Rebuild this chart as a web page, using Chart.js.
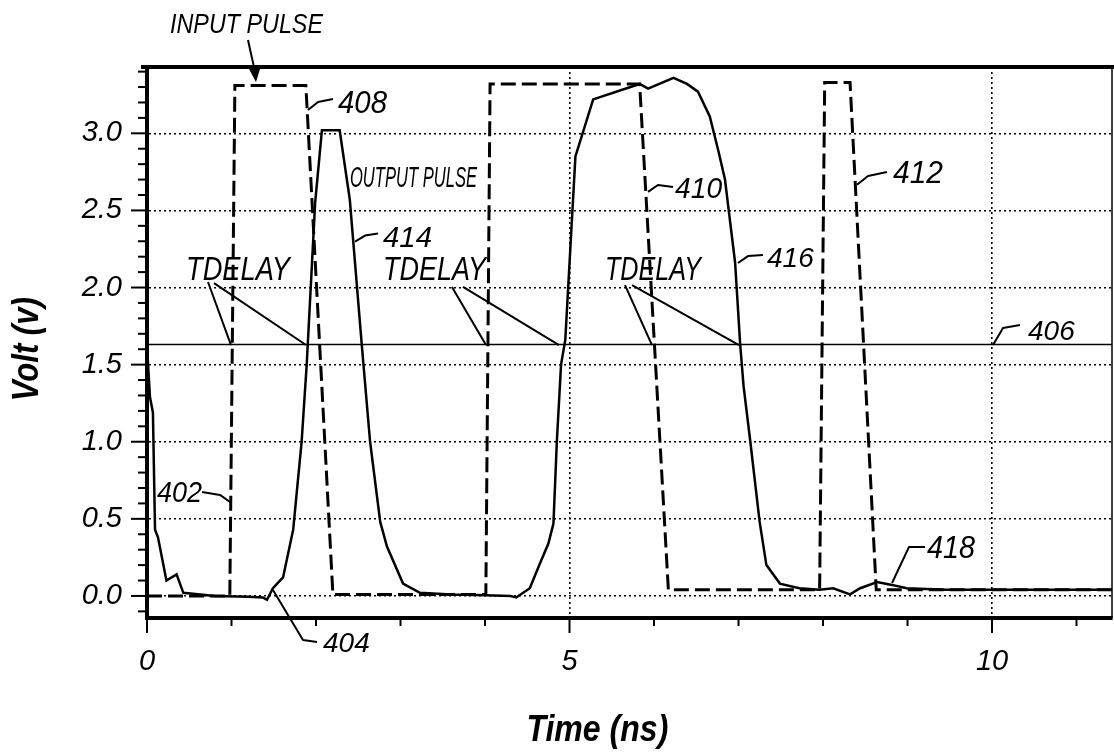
<!DOCTYPE html>
<html>
<head>
<meta charset="utf-8">
<script src="https://cdn.jsdelivr.net/npm/chart.js@4.4.1/dist/chart.umd.min.js"></script>
<style>
  html, body { margin: 0; padding: 0; background: #fff; overflow: hidden; }
  #wrap { width: 1114px; height: 752px; }
</style>
</head>
<body>
<div id="wrap"><canvas id="c" width="1114" height="752"></canvas></div>
<script>
// ---------- data ----------
const inputTime  = [0, 0.98, 1.04, 1.88, 2.20, 4.01, 4.06, 5.83, 6.17, 7.96, 8.02, 8.32, 8.63, 11.42];
const inputVolt  = [0.00, 0.00, 3.31, 3.31, 0.01, 0.01, 3.32, 3.32, 0.04, 0.04, 3.33, 3.33, 0.04, 0.04];

const outputTime = [0, 0.035, 0.07, 0.095, 0.13, 0.23, 0.35, 0.43, 0.8, 1.2, 1.37, 1.42, 1.49, 1.61, 1.73, 1.83, 1.89, 1.99, 2.07, 2.28, 2.40, 2.54, 2.64, 2.76, 2.84, 3.03, 3.23, 3.6, 4.0, 4.3, 4.37, 4.53, 4.65, 4.75, 4.81, 4.85, 4.90, 4.95, 5.07, 5.28, 5.83, 5.93, 6.23, 6.39, 6.52, 6.66, 6.76, 6.84, 6.88, 6.96, 7.02, 7.06, 7.14, 7.25, 7.33, 7.49, 7.72, 7.96, 8.12, 8.32, 8.44, 8.64, 8.83, 8.99, 9.46, 10.0, 11.42];
const outputVolt = [1.62, 1.29, 1.19, 0.43, 0.38, 0.10, 0.14, 0.02, 0.00, -0.005, -0.01, -0.025, 0.05, 0.12, 0.43, 1.00, 1.50, 2.55, 3.02, 3.02, 2.57, 1.64, 1.00, 0.48, 0.32, 0.08, 0.02, 0.01, 0.005, 0.00, -0.01, 0.05, 0.21, 0.34, 0.47, 1.00, 1.50, 1.66, 2.85, 3.22, 3.32, 3.29, 3.36, 3.32, 3.27, 3.11, 2.89, 2.70, 2.52, 2.16, 1.63, 1.36, 1.00, 0.48, 0.20, 0.08, 0.05, 0.04, 0.05, 0.01, 0.05, 0.09, 0.07, 0.05, 0.04, 0.04, 0.04];

const thresholdVolt = 1.63;          // line 406
const xMin = 0, xMax = 11.42;
const yMin = -0.143, yMax = 3.43;
const xLabelValues = [0, 5, 10];
const yLabelStep = 0.5;

// callouts: [text, time, volt (left/baseline), font px, max width px]
const calloutTexts = [
  ['INPUT PULSE', 0.272, 3.650, 28, 153],
  ['408', 2.260, 3.132, 31, 49],
  ['OUTPUT PULSE', 2.402, 2.652, 30, 127],
  ['414', 2.793, 2.263, 30, 49],
  ['TDELAY', 0.462, 2.049, 33, 104],
  ['TDELAY', 2.793, 2.049, 33, 103],
  ['TDELAY', 5.420, 2.049, 33, 96],
  ['410', 6.249, 2.581, 30, 47],
  ['416', 7.337, 2.133, 28, 48],
  ['412', 8.828, 2.678, 31, 50],
  ['406', 10.426, 1.660, 28, 49],
  ['402', 0.118, 0.609, 30, 45],
  ['404', 2.083, -0.363, 28, 47],
  ['418', 9.231, 0.246, 31, 48]
];
// leader lines as lists of [time, volt]
const calloutLeaders = [
  [[1.195, 3.605], [1.278, 3.40]],
  [[1.905, 3.151], [2.024, 3.203], [2.201, 3.223]],
  [[2.462, 2.297], [2.580, 2.337], [2.734, 2.350]],
  [[0.722, 2.036], [0.994, 1.627]],
  [[0.793, 2.029], [1.882, 1.627]],
  [[3.609, 2.004], [4.012, 1.627]],
  [[3.740, 2.004], [4.876, 1.627]],
  [[5.657, 2.016], [5.976, 1.627]],
  [[5.740, 2.016], [7.006, 1.627]],
  [[5.929, 2.620], [6.047, 2.665], [6.225, 2.652]],
  [[6.994, 2.159], [7.112, 2.204], [7.290, 2.211]],
  [[8.402, 2.666], [8.533, 2.723], [8.757, 2.749]],
  [[10.012, 1.627], [10.130, 1.738], [10.331, 1.757]],
  [[0.651, 0.674], [0.864, 0.655], [0.982, 0.609]],
  [[1.491, 0.039], [1.846, -0.285], [2.012, -0.298]],
  [[8.817, 0.084], [9.018, 0.318], [9.207, 0.318]]
];
const arrowTip = [1.29, 3.333];
const xTitle = 'Time (ns)';
const yTitle = 'Volt (v)';

// ---------- helpers ----------
const FONT = '"Liberation Sans", Arial, sans-serif';
const toXY = (xs, ys) => xs.map((x, i) => ({ x: x, y: ys[i] }));
const isMult = (v, s) => Math.abs(v / s - Math.round(v / s)) < 1e-6;

const framePlugin = {
  id: 'frame',
  afterDraw(chart) {
    const ctx = chart.ctx;
    const a = chart.chartArea;
    const xs = chart.scales.x, ys = chart.scales.y;
    const P = (t, v) => [xs.getPixelForValue(t), ys.getPixelForValue(v)];
    ctx.save();
    ctx.strokeStyle = '#000';
    ctx.fillStyle = '#000';
    ctx.lineCap = 'butt';
    // top and right frame
    ctx.lineWidth = 4;
    ctx.beginPath();
    ctx.moveTo(a.left - 6, a.top);
    ctx.lineTo(chart.width, a.top);
    ctx.stroke();
    ctx.lineWidth = 1.5;
    ctx.beginPath();
    ctx.moveTo(a.right, a.top);
    ctx.lineTo(a.right, a.bottom);
    ctx.stroke();
    // y tick marks
    ctx.lineWidth = 2;
    ys.ticks.forEach(t => {
      const py = ys.getPixelForValue(t.value);
      const len = isMult(t.value, yLabelStep) ? 16 : 9;
      ctx.beginPath();
      ctx.moveTo(a.left - len, py);
      ctx.lineTo(a.left, py);
      ctx.stroke();
    });
    // x tick marks
    xs.ticks.forEach(t => {
      const px = xs.getPixelForValue(t.value);
      const len = xLabelValues.includes(t.value) ? 15 : 8;
      ctx.beginPath();
      ctx.moveTo(px, a.bottom);
      ctx.lineTo(px, a.bottom + len);
      ctx.stroke();
    });
    // axis titles
    ctx.font = 'italic bold 36px ' + FONT;
    ctx.textAlign = 'center';
    ctx.textBaseline = 'alphabetic';
    ctx.fillText(xTitle, xs.getPixelForValue(5.33), 741, 142);
    ctx.save();
    ctx.translate(38, ys.getPixelForValue(1.6));
    ctx.rotate(-Math.PI / 2);
    ctx.fillText(yTitle, 0, 0, 104);
    ctx.restore();
    // callout texts
    ctx.textAlign = 'left';
    calloutTexts.forEach(([txt, t, v, size, w]) => {
      const [px, py] = P(t, v);
      ctx.font = 'italic ' + size + 'px ' + FONT;
      ctx.fillText(txt, px, py, w);
    });
    // leader lines
    ctx.lineWidth = 2;
    ctx.lineJoin = 'round';
    calloutLeaders.forEach(pts => {
      ctx.beginPath();
      pts.forEach(([t, v], i) => {
        const [px, py] = P(t, v);
        if (i === 0) ctx.moveTo(px, py); else ctx.lineTo(px, py);
      });
      ctx.stroke();
    });
    // arrow head
    const [ax, ay] = P(arrowTip[0], arrowTip[1]);
    ctx.beginPath();
    ctx.moveTo(ax, ay);
    ctx.lineTo(ax - 7, ay - 13);
    ctx.lineTo(ax + 4, ay - 13);
    ctx.closePath();
    ctx.fill();
    ctx.restore();
  }
};

new Chart(document.getElementById('c'), {
  type: 'line',
  data: {
    datasets: [
      {
        label: 'Input pulse',
        data: toXY(inputTime, inputVolt),
        borderColor: '#000',
        borderWidth: 3,
        borderDash: [15, 6],
        pointRadius: 0,
        tension: 0,
        fill: false
      },
      {
        label: 'Output pulse',
        data: toXY(outputTime, outputVolt),
        borderColor: '#000',
        borderWidth: 2.5,
        pointRadius: 0,
        tension: 0,
        fill: false
      },
      {
        label: 'Threshold',
        data: toXY([xMin, xMax], [thresholdVolt, thresholdVolt]),
        borderColor: '#000',
        borderWidth: 1.5,
        pointRadius: 0,
        tension: 0,
        fill: false
      }
    ]
  },
  options: {
    responsive: false,
    animation: false,
    devicePixelRatio: 1,
    layout: { padding: { top: 67, right: 2, left: 0, bottom: 0 } },
    plugins: { legend: { display: false }, tooltip: { enabled: false } },
    scales: {
      x: {
        type: 'linear',
        position: 'bottom',
        min: xMin,
        max: xMax,
        afterFit: s => { s.height = 134; },
        ticks: {
          stepSize: 1,
          autoSkip: false,
          maxRotation: 0,
          includeBounds: false,
          padding: 27,
          color: '#000',
          font: { family: FONT, size: 29, style: 'italic' },
          callback: v => xLabelValues.includes(v) ? String(v) : ''
        },
        grid: {
          drawTicks: false,
          lineWidth: 1.6,
          color: c => (c.tick && c.tick.value > 0 && xLabelValues.includes(c.tick.value)) ? '#000' : 'rgba(0,0,0,0)'
        },
        border: { display: true, color: '#000', width: 4, dash: [2, 3] }
      },
      y: {
        type: 'linear',
        min: yMin,
        max: yMax,
        afterFit: s => { s.width = 147; },
        ticks: {
          stepSize: 0.1,
          autoSkip: false,
          includeBounds: false,
          padding: 25,
          color: '#000',
          font: { family: FONT, size: 29, style: 'italic' },
          callback: v => isMult(v, yLabelStep) ? Math.abs(v).toFixed(1) : ''
        },
        grid: {
          drawTicks: false,
          lineWidth: 1.6,
          color: c => (c.tick && isMult(c.tick.value, yLabelStep)) ? '#000' : 'rgba(0,0,0,0)'
        },
        border: { display: true, color: '#000', width: 4, dash: [2, 3] }
      }
    }
  },
  plugins: [framePlugin]
});
</script>
</body>
</html>
